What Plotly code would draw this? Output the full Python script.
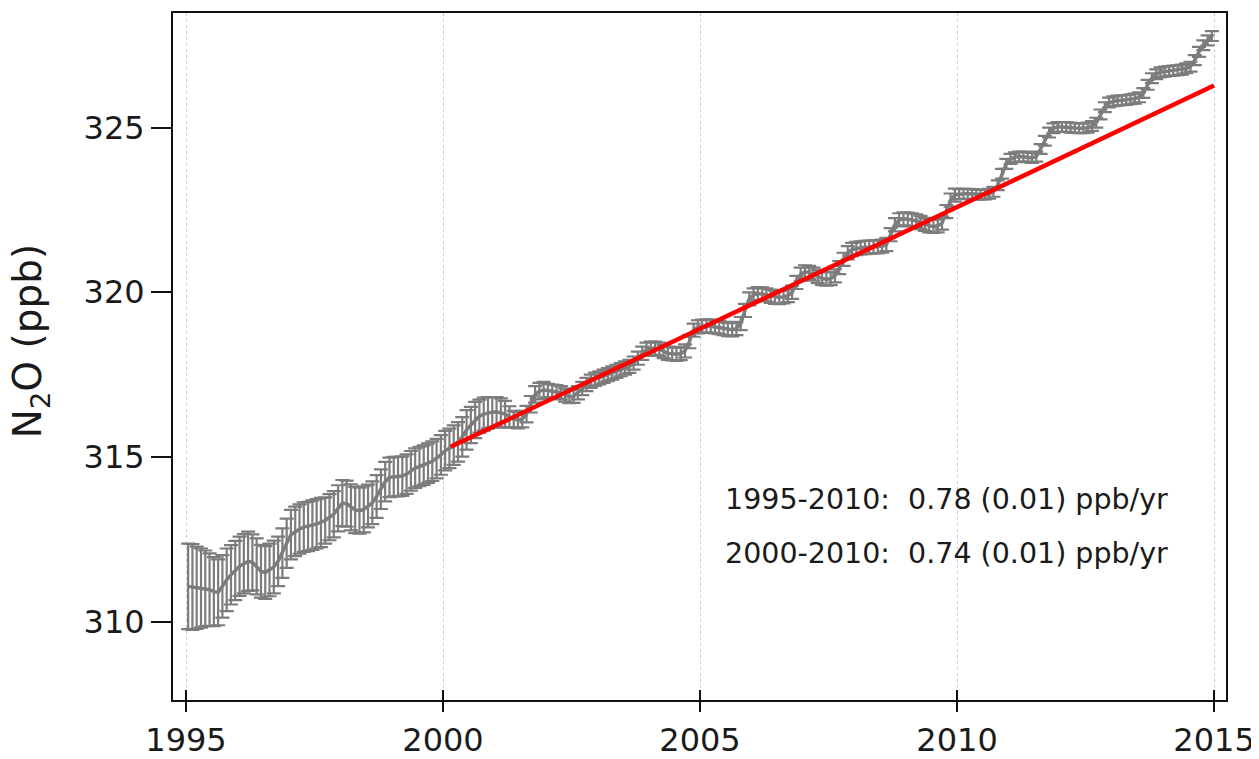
import plotly.graph_objects as go

# ---------------- data (monthly means, ppb) ----------------
years = list(range(1995, 2015))

n2o_1995 = [311.07, 311.05, 311.03, 311.02, 311.01, 310.97, 310.91, 310.89, 311.07, 311.27, 311.42, 311.55]
n2o_1996 = [311.68, 311.76, 311.83, 311.80, 311.68, 311.53, 311.49, 311.57, 311.66, 311.83, 312.08, 312.38]
n2o_1997 = [312.64, 312.74, 312.81, 312.87, 312.89, 312.93, 312.97, 313.01, 313.07, 313.17, 313.26, 313.44]
n2o_1998 = [313.60, 313.58, 313.47, 313.39, 313.37, 313.41, 313.51, 313.61, 313.80, 314.02, 314.25, 314.38]
n2o_1999 = [314.40, 314.40, 314.42, 314.48, 314.58, 314.66, 314.71, 314.75, 314.81, 314.87, 314.95, 315.06]
n2o_2000 = [315.19, 315.26, 315.36, 315.46, 315.61, 315.82, 315.97, 316.12, 316.24, 316.30, 316.34, 316.36]
n2o_2001 = [316.37, 316.34, 316.30, 316.22, 316.15, 316.12, 316.15, 316.30, 316.60, 316.90, 317.00, 317.03]
n2o_2002 = [317.02, 317.00, 316.98, 316.95, 316.88, 316.83, 316.84, 316.95, 317.08, 317.20, 317.30, 317.36]
n2o_2003 = [317.40, 317.45, 317.50, 317.55, 317.60, 317.65, 317.70, 317.75, 317.85, 318.00, 318.15, 318.27]
n2o_2004 = [318.30, 318.30, 318.27, 318.20, 318.15, 318.13, 318.12, 318.14, 318.22, 318.50, 318.85, 318.95]
n2o_2005 = [318.97, 318.98, 318.97, 318.95, 318.93, 318.90, 318.87, 318.86, 318.90, 319.05, 319.45, 319.80]
n2o_2006 = [319.92, 319.96, 319.95, 319.92, 319.88, 319.85, 319.84, 319.86, 319.90, 320.00, 320.30, 320.55]
n2o_2007 = [320.62, 320.60, 320.55, 320.48, 320.42, 320.40, 320.42, 320.50, 320.75, 321.00, 321.20, 321.30]
n2o_2008 = [321.33, 321.35, 321.36, 321.37, 321.38, 321.38, 321.40, 321.45, 321.75, 322.05, 322.20, 322.23]
n2o_2009 = [322.22, 322.20, 322.17, 322.12, 322.06, 322.02, 322.00, 322.02, 322.10, 322.45, 322.80, 322.95]
n2o_2010 = [322.98, 322.99, 322.99, 322.98, 322.97, 322.96, 322.97, 322.99, 323.05, 323.25, 323.60, 323.90]
n2o_2011 = [324.05, 324.10, 324.12, 324.12, 324.10, 324.08, 324.12, 324.35, 324.60, 324.85, 324.98, 325.02]
n2o_2012 = [325.02, 325.02, 325.00, 324.99, 324.98, 324.98, 325.00, 325.05, 325.15, 325.40, 325.62, 325.76]
n2o_2013 = [325.80, 325.82, 325.83, 325.84, 325.86, 325.88, 325.92, 326.05, 326.30, 326.50, 326.62, 326.68]
n2o_2014 = [326.70, 326.72, 326.73, 326.74, 326.76, 326.80, 326.85, 327.05, 327.30, 327.50, 327.65, 327.78]

err_1995 = [1.30, 1.30, 1.25, 1.20, 1.15, 1.10, 1.05, 1.00, 0.95, 0.95, 0.90, 0.90]
err_1996 = [0.90, 0.90, 0.90, 0.85, 0.85, 0.80, 0.80, 0.80, 0.80, 0.75, 0.75, 0.75]
err_1997 = [0.75, 0.75, 0.75, 0.75, 0.75, 0.75, 0.75, 0.75, 0.70, 0.70, 0.70, 0.70]
err_1998 = [0.70, 0.70, 0.70, 0.70, 0.70, 0.70, 0.65, 0.65, 0.65, 0.60, 0.60, 0.60]
err_1999 = [0.60, 0.60, 0.60, 0.60, 0.60, 0.60, 0.60, 0.60, 0.60, 0.60, 0.60, 0.60]
err_2000 = [0.60, 0.60, 0.60, 0.60, 0.60, 0.60, 0.55, 0.55, 0.50, 0.50, 0.48, 0.46]
err_2001 = [0.45, 0.44, 0.40, 0.32, 0.25, 0.25, 0.25, 0.25, 0.25, 0.25, 0.25, 0.25]
err_2002_2009 = [0.20] * 12
err_2010_2014 = [0.15] * 12

trend_years = [2000.15, 2015.0]
trend_values = [315.31, 326.28]

x_ticks = [1995, 2000, 2005, 2010, 2015]
y_ticks = [310, 315, 320, 325]

y_title = "N<sub>2</sub>O (ppb)"
rate_labels = ["1995-2010:&nbsp; 0.78 (0.01) ppb/yr",
               "2000-2010:&nbsp; 0.74 (0.01) ppb/yr"]

# ---------------- assemble ----------------
n2o_years = [n2o_1995, n2o_1996, n2o_1997, n2o_1998, n2o_1999, n2o_2000, n2o_2001,
             n2o_2002, n2o_2003, n2o_2004, n2o_2005, n2o_2006, n2o_2007, n2o_2008,
             n2o_2009, n2o_2010, n2o_2011, n2o_2012, n2o_2013, n2o_2014]
err_years = [err_1995, err_1996, err_1997, err_1998, err_1999, err_2000, err_2001] + \
            [err_2002_2009] * 8 + [err_2010_2014] * 5

t, v, e = [], [], []
for yr, vals, errs in zip(years, n2o_years, err_years):
    for m in range(12):
        t.append(yr + (m + 0.5) / 12.0)
        v.append(vals[m])
        e.append(errs[m])

FONT = "DejaVu Sans"
GRAY = "#7c7c7c"
INK = "#1a1a1a"

fig = go.Figure()
fig.add_trace(go.Scatter(
    x=t, y=v, mode="lines",
    line=dict(color=GRAY, width=3.5),
    error_y=dict(type="data", array=e, visible=True, color=GRAY, thickness=2.2, width=7),
    showlegend=False, hoverinfo="skip"))
fig.add_trace(go.Scatter(
    x=trend_years, y=trend_values, mode="lines",
    line=dict(color="#ff0000", width=4.5),
    showlegend=False, hoverinfo="skip"))

for xv in x_ticks:
    fig.add_shape(type="line", xref="x", yref="paper", ysizemode="pixel",
                  yanchor=0, x0=xv, x1=xv, y0=0, y1=10,
                  line=dict(color="#111111", width=2))

fig.add_annotation(xref="paper", yref="paper", x=0.522, y=0.292, xanchor="left",
                   yanchor="middle", text=rate_labels[0], showarrow=False,
                   font=dict(family=FONT, size=28.5, color=INK))
fig.add_annotation(xref="paper", yref="paper", x=0.522, y=0.213, xanchor="left",
                   yanchor="middle", text=rate_labels[1], showarrow=False,
                   font=dict(family=FONT, size=28.5, color=INK))
# y-axis title (rotated), placed slightly above the axis centre as in the reference
fig.add_annotation(xref="paper", yref="paper", x=-0.135, y=0.522, xanchor="center",
                   yanchor="middle", text=y_title, textangle=-90, showarrow=False,
                   font=dict(family=FONT, size=39, color=INK))

# the page body adds an 8 px offset, so the figure is 8 px smaller on each side
fig.update_layout(
    width=1251, height=751,
    margin=dict(l=165, r=33, t=5, b=59, autoexpand=False),
    paper_bgcolor="white", plot_bgcolor="white",
    font=dict(family=FONT, color=INK),
    xaxis=dict(range=[1994.747, 2015.233], tickvals=x_ticks, automargin=False,
               ticks="outside", ticklen=10, tickwidth=2, tickcolor="#111111",
               tickfont=dict(size=32, family=FONT, color=INK),
               ticklabelstandoff=1,
               showline=True, linecolor="#111111", linewidth=2, mirror=True,
               showgrid=True, gridcolor="#c8c8f5", gridwidth=1, griddash="dot",
               zeroline=False),
    yaxis=dict(range=[307.62, 328.48], tickvals=y_ticks, automargin=False,
               ticks="outside", ticklen=20, tickwidth=2, tickcolor="#111111",
               tickfont=dict(size=32, family=FONT, color=INK),
               ticklabelstandoff=0,
               showline=True, linecolor="#111111", linewidth=2, mirror=True,
               showgrid=False, zeroline=False),
)

fig.write_html("out.html")
